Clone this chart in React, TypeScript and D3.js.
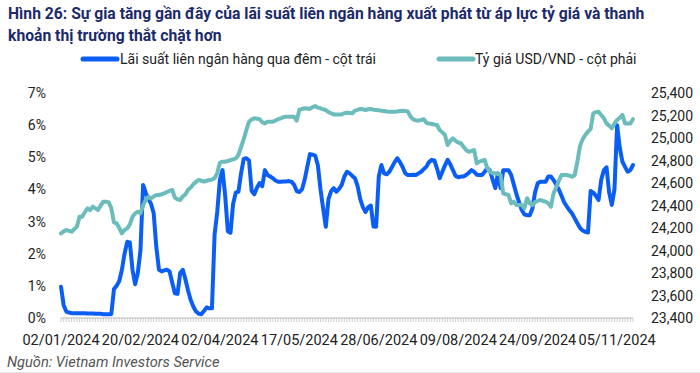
import React from "react";
import { scaleLinear, line } from "d3";

const title1 = "Hình 26: Sự gia tăng gần đây của lãi suất liên ngân hàng xuất phát từ áp lực tỷ giá và thanh";
const title2 = "khoản thị trường thắt chặt hơn";
const source = "Nguồn: Vietnam Investors Service";
const seriesNames = ["Lãi suất liên ngân hàng qua đêm - cột trái", "Tỷ giá USD/VND - cột phải"];

// one tick label every 30 trading days
const tickLabels = [
  "02/01/2024", "20/02/2024", "02/04/2024", "17/05/2024",
  "28/06/2024", "09/08/2024", "24/09/2024", "05/11/2024",
];
const leftTicks = [0, 1, 2, 3, 4, 5, 6, 7];
const rightTicks = [23400, 23600, 23800, 24000, 24200, 24400, 24600, 24800, 25000, 25200, 25400];

// overnight interbank rate, % (daily)
const rate = [
  0.97, 0.4, 0.2, 0.17, 0.15, 0.15, 0.15, 0.15, 0.15, 0.15, 0.14, 0.14, 0.14, 0.13, 0.13, 0.13, 0.12, 0.12, 0.12, 0.12,
  0.9, 1.0, 1.15, 1.5, 2.0, 2.37, 2.35, 1.5, 1.05, 1.4, 2.1, 4.14, 3.9, 3.7, 3.55, 3.26, 2.2, 1.5, 1.45, 1.48,
  1.5, 1.45, 1.1, 0.77, 0.75, 1.4, 1.5, 1.2, 0.85, 0.55, 0.35, 0.2, 0.13, 0.12, 0.22, 0.33, 0.3, 0.3, 2.6, 3.3,
  4.3, 4.6, 3.8, 2.7, 2.65, 3.55, 3.9, 3.93, 4.5, 4.95, 4.97, 4.9, 3.95, 3.85, 4.05, 4.2, 4.1, 4.6, 4.45, 4.4,
  4.35, 4.28, 4.24, 4.24, 4.25, 4.25, 4.26, 4.24, 4.15, 3.95, 3.92, 4.0, 4.3, 4.7, 5.1, 5.08, 5.05, 4.75, 4.0, 3.4,
  2.84, 3.7, 3.95, 4.04, 3.93, 4.02, 4.14, 4.4, 4.55, 4.5, 4.42, 4.35, 4.1, 3.7, 3.45, 3.3, 3.45, 3.5, 2.85, 2.84,
  4.4, 4.76, 4.5, 4.47, 4.55, 4.7, 4.85, 4.97, 4.85, 4.7, 4.5, 4.45, 4.45, 4.46, 4.45, 4.5, 4.55, 4.63, 4.71, 4.85,
  4.92, 4.9, 4.65, 4.35, 4.55, 4.75, 4.92, 4.78, 4.6, 4.42, 4.38, 4.4, 4.4, 4.45, 4.52, 4.6, 4.55, 4.46, 4.45, 4.45,
  4.55, 4.66, 4.58, 4.3, 4.04, 4.5, 4.04, 4.6, 4.6, 4.6, 4.45, 4.15, 3.85, 3.6, 3.36, 3.22, 3.2, 3.2, 3.4, 3.9,
  4.19, 4.24, 4.24, 4.24, 4.4, 4.4, 4.29, 4.15, 4.0, 3.8, 3.6, 3.47, 3.35, 3.25, 3.1, 2.95, 2.8, 2.72, 2.68, 2.66,
  3.95, 3.9, 3.8, 3.67, 4.3, 4.6, 4.69, 3.9, 3.52, 4.0, 6.0, 5.3, 4.86, 4.7, 4.55, 4.6, 4.76,
];

// USD/VND rate (daily)
const fx = [
  24153, 24170, 24182, 24175, 24167, 24190, 24212, 24300, 24300, 24340, 24375, 24360, 24390, 24375, 24360, 24400, 24434, 24434, 24430, 24375,
  24250, 24242, 24200, 24153, 24182, 24197, 24230, 24300, 24330, 24345, 24330, 24400, 24450, 24478, 24463, 24480, 24493, 24493, 24500, 24508,
  24520, 24530, 24538, 24470, 24455, 24449, 24480, 24500, 24540, 24560, 24590, 24610, 24627, 24620, 24612, 24620, 24627, 24630, 24642, 24686,
  24780, 24789, 24789, 24795, 24804, 24810, 24819, 24849, 24920, 24990, 25071, 25145, 25165, 25175, 25172, 25167, 25140, 25130, 25145, 25145,
  25145, 25155, 25167, 25175, 25185, 25190, 25190, 25190, 25190, 25154, 25249, 25258, 25264, 25262, 25258, 25275, 25284, 25270, 25264, 25255,
  25249, 25230, 25220, 25210, 25210, 25210, 25210, 25220, 25225, 25222, 25219, 25243, 25250, 25258, 25255, 25249, 25255, 25258, 25252, 25249,
  25246, 25243, 25240, 25236, 25234, 25234, 25234, 25236, 25240, 25243, 25240, 25234, 25190, 25165, 25158, 25154, 25160, 25167, 25135, 25128,
  25125, 25120, 25116, 25071, 25050, 25027, 24938, 24975, 24997, 24975, 24960, 24953, 24923, 24893, 24878, 24885, 24893, 24775, 24790, 24798,
  24804, 24730, 24700, 24686, 24686, 24680, 24671, 24508, 24500, 24493, 24419, 24434, 24404, 24404, 24404, 24375, 24464, 24420, 24404, 24430,
  24440, 24449, 24440, 24434, 24419, 24390, 24508, 24560, 24620, 24671, 24671, 24671, 24665, 24656, 24671, 24789, 24930, 24990, 25027, 25057,
  25080, 25220, 25230, 25234, 25205, 25175, 25130, 25110, 25086, 25130, 25160, 25180, 25205, 25130, 25130, 25130, 25167,
];

const W = 700;
const H = 373;
const margin = { left: 61, right: 67, top: 93, bottom: 55 };
const blue = "#0a5ef5";
const teal = "#6cbcbc";
const font = "Roboto, 'Noto Sans', sans-serif";

export default function App() {
  const n = rate.length;
  const x = scaleLinear().domain([0, n - 1]).range([margin.left, W - margin.right]);
  const yL = scaleLinear().domain([0, 7]).range([H - margin.bottom, margin.top]);
  const yR = scaleLinear().domain([23400, 25400]).range([H - margin.bottom, margin.top]);

  const rateLine = line<number>().x((_, i) => x(i)).y((d) => yL(d));
  const fxLine = line<number>().x((_, i) => x(i)).y((d) => yR(d));
  const axisY = H - margin.bottom;

  return (
    <svg width={W} height={H} style={{ position: "absolute", left: 0, top: 0, background: "#fff" }} fontFamily={font}>
      <text x={8} y={19} fontSize={15.7} fontWeight="bold" fill="#1c2a6b">{title1}</text>
      <text x={8} y={41} fontSize={15.7} fontWeight="bold" fill="#1c2a6b">{title2}</text>

      {/* legend */}
      <g fontSize={14} fill="#222">
        <line x1={83} x2={117} y1={59} y2={59} stroke={blue} strokeWidth={5} strokeLinecap="round" />
        <text x={120} y={59} dominantBaseline="central">{seriesNames[0]}</text>
        <line x1={439} x2={473} y1={59} y2={59} stroke={teal} strokeWidth={5} strokeLinecap="round" />
        <text x={475} y={59} dominantBaseline="central">{seriesNames[1]}</text>
      </g>

      {/* x axis with a tick per day */}
      <line x1={x(0)} x2={x(n - 1)} y1={axisY} y2={axisY} stroke="#b5b5b5" strokeWidth={1} />
      {rate.map((_, i) => (
        <line key={i} x1={x(i)} x2={x(i)} y1={axisY} y2={axisY + 4} stroke="#c2c2c2" strokeWidth={0.8} />
      ))}
      {tickLabels.map((t, k) => (
        <text key={t} x={x(k * 30)} y={345} fontSize={14.5} textAnchor="middle" fill="#222">{t}</text>
      ))}

      {leftTicks.map((t) => (
        <text key={t} x={46} y={yL(t)} fontSize={14} textAnchor="end" dominantBaseline="central" fill="#222">{t}%</text>
      ))}
      {rightTicks.map((t) => (
        <text key={t} x={651} y={yR(t)} fontSize={14} dominantBaseline="central" fill="#222">{t.toLocaleString("en-US")}</text>
      ))}

      <path d={rateLine(rate) ?? ""} fill="none" stroke={blue} strokeWidth={4} strokeLinejoin="round" strokeLinecap="round" />
      <path d={fxLine(fx) ?? ""} fill="none" stroke={teal} strokeWidth={4} strokeLinejoin="round" strokeLinecap="round" />

      <text x={7} y={367} fontSize={14.6} fontStyle="italic" fill="#555">{source}</text>
      <line x1={0} x2={W} y1={372.5} y2={372.5} stroke="#e4e4e4" strokeWidth={1} />
    </svg>
  );
}
